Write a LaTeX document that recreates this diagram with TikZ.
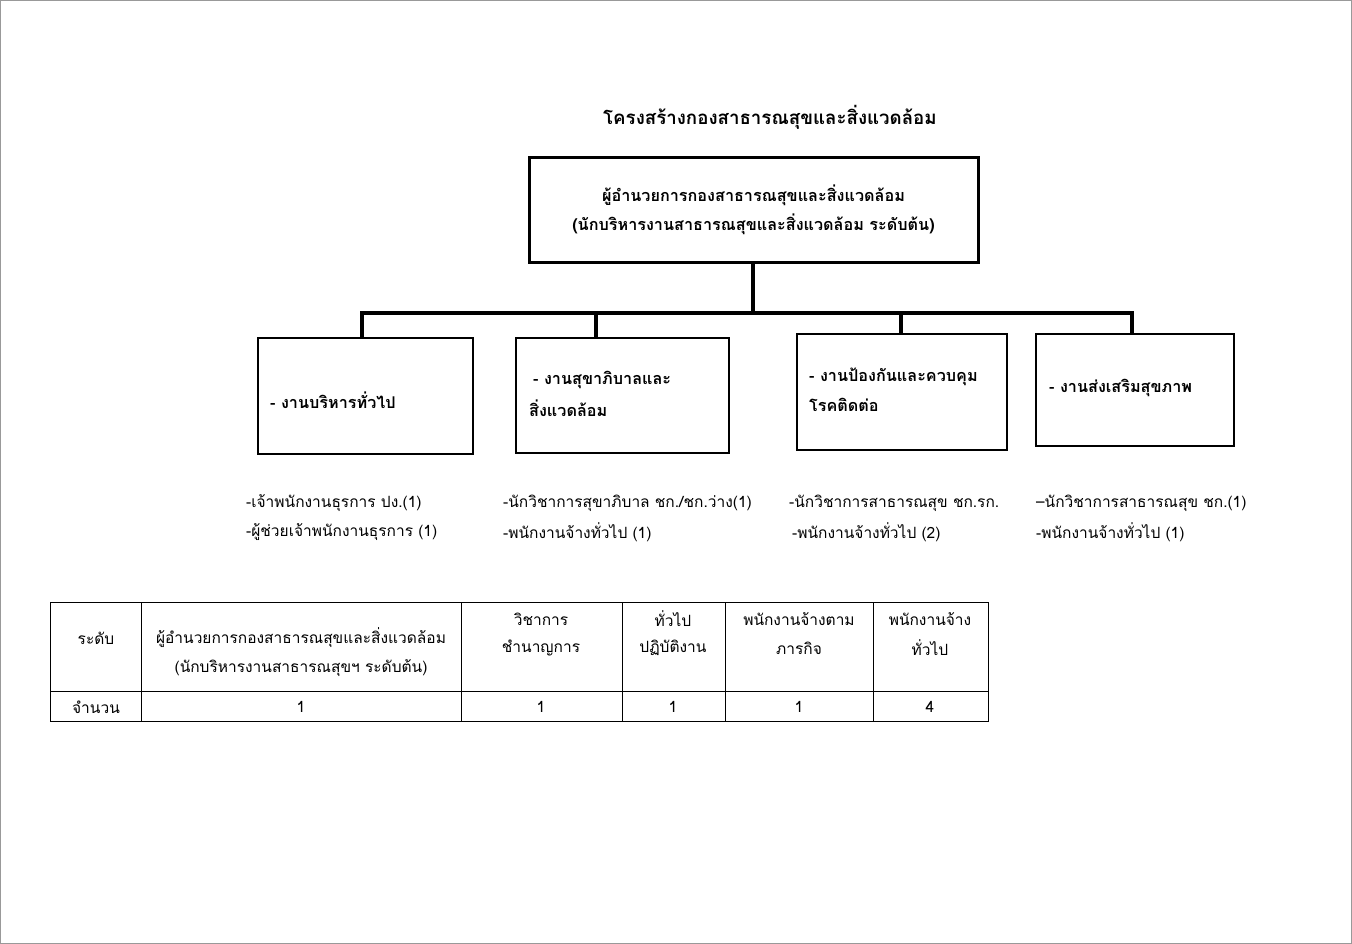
\documentclass[tikz,border=0pt]{standalone}
\usepackage{fontspec}
\setmainfont[Script=Thai]{Loma}
\begin{document}
\begin{tikzpicture}[x=1pt,y=-1pt,
  txt/.style={inner sep=0pt, font=\fontsize{15.5}{18}\selectfont},
  btxt/.style={inner sep=0pt, font=\fontsize{16.2}{29}\selectfont\bfseries},
  unit/.style={draw, line width=1.2pt, inner sep=0pt},
  conn/.style={line width=4pt},
  tline/.style={line width=1pt}]
\useasboundingbox (0,0) rectangle (1352,944);
\draw[gray!80, line width=1.2pt] (0.6,0.6) rectangle (1351.4,943.4);
% title
\node[inner sep=0pt, font=\fontsize{18.7}{22}\selectfont\bfseries] (title) at (770,117) {โครงสร้างกองสาธารณสุขและสิ่งแวดล้อม};
% top box
\node[draw, line width=3pt, minimum width=449pt, minimum height=104pt, inner sep=0pt] (top) at (753.5,210) {};
\node[btxt, align=center] (toptext) at (top.center) {ผู้อำนวยการกองสาธารณสุขและสิ่งแวดล้อม\\(นักบริหารงานสาธารณสุขและสิ่งแวดล้อม ระดับต้น)};
% unit boxes
\node[unit, minimum width=215pt, minimum height=116pt] (b1) at (365.5,396) {};
\node[unit, minimum width=213pt, minimum height=115pt] (b2) at (622.5,395.5) {};
\node[unit, minimum width=210pt, minimum height=116pt] (b3) at (902,392) {};
\node[unit, minimum width=198pt, minimum height=112pt] (b4) at (1135,390) {};
\node[btxt, anchor=west] (b1t) at (270,400) {- งานบริหารทั่วไป};
\node[btxt, anchor=west] (b2t1) at (533,380) {- งานสุขาภิบาลและ};
\node[btxt, anchor=west] (b2t2) at (529,408) {สิ่งแวดล้อม};
\node[btxt, anchor=west] (b3t1) at (809,377) {- งานป้องกันและควบคุม};
\node[btxt, anchor=west] (b3t2) at (809,405) {โรคติดต่อ};
\node[btxt, anchor=west] (b4t) at (1049,388) {- งานส่งเสริมสุขภาพ};
% connectors
\coordinate (bus) at (753,313);
\coordinate (d1) at (362,313);
\coordinate (d2) at (596,313);
\coordinate (d3) at (901,313);
\coordinate (d4) at (1132,313);
\draw[line width=3.5pt] (top.south -| bus) -- (bus);
\draw[conn] ([xshift=-2pt]d1) -- ([xshift=2pt]d4);
\draw[conn] (d1) -- (d1 |- b1.north);
\draw[conn] (d2) -- (d2 |- b2.north);
\draw[conn] (d3) -- (d3 |- b3.north);
\draw[conn] (d4) -- (d4 |- b4.north);
% staff lists
\node[txt, anchor=west] (s11) at (246,503) {-เจ้าพนักงานธุรการ ปง.(1)};
\node[txt, anchor=west] (s12) at (246,532) {-ผู้ช่วยเจ้าพนักงานธุรการ (1)};
\node[txt, anchor=west] (s21) at (503,503) {-นักวิชาการสุขาภิบาล ชก./ชก.ว่าง(1)};
\node[txt, anchor=west] (s22) at (503,532) {-พนักงานจ้างทั่วไป (1)};
\node[txt, anchor=west] (s31) at (789,503) {-นักวิชาการสาธารณสุข ชก.รก.};
\node[txt, anchor=west] (s32) at (792,532) {-พนักงานจ้างทั่วไป (2)};
\node[txt, anchor=west] (s41) at (1036,503) {–นักวิชาการสาธารณสุข ชก.(1)};
\node[txt, anchor=west] (s42) at (1036,532) {-พนักงานจ้างทั่วไป (1)};
% table
\draw[tline] (50,602) rectangle (988,721);
\draw[tline] (50,691) -- (988,691);
\foreach \x in {141,461,622,725,873} \draw[tline] (\x,602) -- (\x,721);
\node[txt] (h1) at (96,638) {ระดับ};
\node[txt] (h2a) at (301,638) {ผู้อำนวยการกองสาธารณสุขและสิ่งแวดล้อม};
\node[txt] (h2b) at (301,668) {(นักบริหารงานสาธารณสุขฯ ระดับต้น)};
\node[txt] (h3a) at (541,619) {วิชาการ};
\node[txt] (h3b) at (541,648) {ชำนาญการ};
\node[txt] (h4a) at (673,619) {ทั่วไป};
\node[txt] (h4b) at (673,648) {ปฏิบัติงาน};
\node[txt] (h5a) at (799,619) {พนักงานจ้างตาม};
\node[txt] (h5b) at (799,648) {ภารกิจ};
\node[txt] (h6a) at (930,619) {พนักงานจ้าง};
\node[txt] (h6b) at (930,648) {ทั่วไป};
\node[txt] (r1) at (96,707) {จำนวน};
\node[txt] (r2) at (301,707) {1};
\node[txt] (r3) at (541,707) {1};
\node[txt] (r4) at (673,707) {1};
\node[txt] (r5) at (799,707) {1};
\node[txt] (r6) at (930,707) {4};
\end{tikzpicture}
\end{document}
